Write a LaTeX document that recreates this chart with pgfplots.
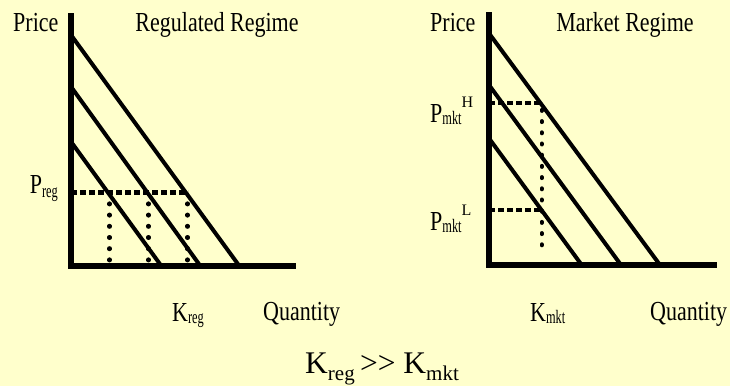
\documentclass[border=0pt]{standalone}
\usepackage{pgfplots}
\pgfplotsset{compat=1.18}
\usepackage{fontspec}
\setmainfont{Liberation Serif}
\newfontfamily\cf[FakeStretch=0.8]{Liberation Serif}
\newfontfamily\cfs[FakeStretch=0.65]{Liberation Serif}
\definecolor{bg}{HTML}{FFFFCC}
\newcommand\bigf{\cf\fontsize{27.5}{30}\selectfont}
\newcommand\subf{\cfs\fontsize{19}{19}\selectfont}
\newcommand\supf{\fontsize{16}{16}\selectfont}
\begin{document}
\begin{tikzpicture}[x=1pt,y=1pt]
\fill[bg] (0,0) rectangle (730,386);
\path[use as bounding box] (0,0) rectangle (730,386);
\pgfplotsset{
  regime/.style={
    scale only axis, anchor=south west, clip=false,
    axis x line=bottom, axis y line=left, ticks=none,
    axis line style={line width=6pt,-,line cap=rect,black},
  },
  demand/.style={black,line width=4pt,line cap=round},
  hdot/.style={black,line width=5pt,dash pattern=on 6pt off 3pt},
  vdot/.style={black,line width=4.2pt,line cap=round,dash pattern=on 0.8pt off 10.4pt},
}
% Left panel: Regulated Regime
\begin{axis}[regime, at={(71,120.5)}, width=222pt, height=249pt,
  xmin=0, xmax=222, ymin=0, ymax=249]
\addplot[demand] coordinates {(0,230.5) (168,0)};
\addplot[demand] coordinates {(0,178.8) (129,0)};
\addplot[demand] coordinates {(0,123.8) (90,0)};
\addplot[hdot] coordinates {(0,72.8) (117,72.8)};
\addplot[vdot] coordinates {(38.5,62) (38.5,1)};
\addplot[vdot] coordinates {(77.5,62) (77.5,1)};
\addplot[vdot] coordinates {(116.5,62) (116.5,1)};
\end{axis}
% Right panel: Market Regime
\begin{axis}[regime, at={(489,121)}, width=225pt, height=250pt,
  xmin=0, xmax=225, ymin=0, ymax=250]
\addplot[demand] coordinates {(0,231.7) (171,0)};
\addplot[demand] coordinates {(0,180) (132,0)};
\addplot[demand] coordinates {(0,126.7) (92.7,0)};
\addplot[hdot,line width=4pt] coordinates {(0,161.7) (52.7,161.7)};
\addplot[hdot,line width=4pt] coordinates {(0,55) (52.7,55)};
\addplot[vdot] coordinates {(52.7,155) (52.7,11)};
\end{axis}
% Labels
\node[anchor=base west,inner sep=0] at (13,354.3) {\bigf Price};
\node[anchor=base,inner sep=0] at (217,354.3) {\bigf Regulated Regime};
\node[anchor=base west,inner sep=0] at (430,354.3) {\bigf Price};
\node[anchor=base,inner sep=0] at (625,354.3) {\bigf Market Regime};
\node[anchor=base east,inner sep=0] at (58,193) {{\bigf P}\raisebox{-4pt}{\subf reg}};
\node[anchor=base west,inner sep=0] at (430,263) {{\bigf P}\raisebox{-2pt}{\subf mkt}\raisebox{15pt}{\supf H}};
\node[anchor=base west,inner sep=0] at (430,156) {{\bigf P}\raisebox{-2pt}{\subf mkt}\raisebox{15pt}{\supf L}};
\node[anchor=base west,inner sep=0] at (172,65) {{\bigf K}\raisebox{-2pt}{\subf reg}};
\node[anchor=base west,inner sep=0] at (263,66) {\bigf Quantity};
\node[anchor=base west,inner sep=0] at (530,65) {{\bigf K}\raisebox{-2pt}{\subf mkt}};
\node[anchor=base west,inner sep=0] at (650,66) {\bigf Quantity};
\node[anchor=base west,inner sep=0] at (305,13) {{\fontsize{31.5}{32}\selectfont K}\raisebox{-7pt}{\fontsize{21}{21}\selectfont reg}{\fontsize{31.5}{32}\selectfont\,>{}>\ K}\raisebox{-7pt}{\fontsize{21}{21}\selectfont mkt}};
\end{tikzpicture}
\end{document}
